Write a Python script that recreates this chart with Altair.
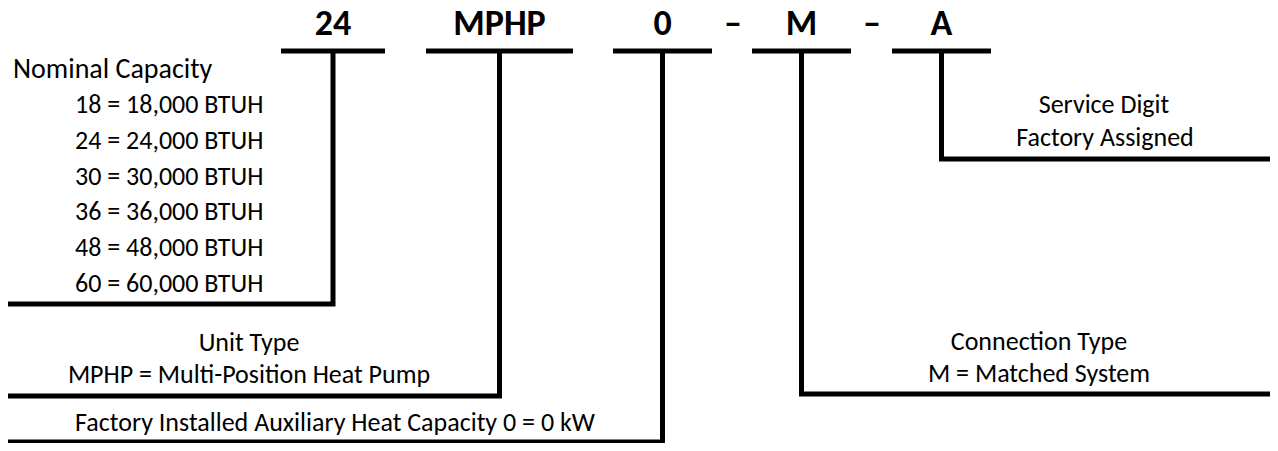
import altair as alt
import pandas as pd

# ---------------- content ----------------
codes = ["24", "MPHP", "0", "M", "A"]
separators = ["–", "–"]
cap_title = "Nominal Capacity"
cap_codes = ["18", "24", "30", "36", "48", "60"]
cap_btuh = ["18,000", "24,000", "30,000", "36,000", "48,000", "60,000"]
unit_lines = ["Unit Type", "MPHP = Multi-Position Heat Pump"]
aux_lines = ["Factory Installed Auxiliary Heat Capacity 0 = 0 kW"]
conn_lines = ["Connection Type", "M = Matched System"]
serv_lines = ["Service Digit", "Factory Assigned"]

# ---------------- layout (pixels of the 1278x451 frame) ----------------
slot_x = [333, 499.5, 662.5, 801.5, 941.5]
slot_half = [52, 73.5, 49.5, 49.5, 49.5]
sep_x = [733, 872]
code_base = 35
bar_y = 51
drop_y = [304, 396, 442, 394, 159]
drop_end = [4, 4, 4, 1276, 1276]

cap_x = 75
cap_title_pos = (13, 78)
cap_base = [113, 149, 185, 220, 256, 292]
unit_pos = [(249, 351), (249, 383)]
aux_pos = [(335, 431)]
conn_pos = [(1039, 350), (1039, 382)]
serv_pos = [(1104, 113), (1105, 146)]

FONT = "Carlito, Lato, sans-serif"
BODY = 26
TITLE = 28
BIG = 36

X0, X1 = 8, 1270
Y0, Y1 = 8, 443
xs = alt.Scale(domain=[X0, X1], range=[0, X1 - X0], nice=False, zero=False)
ys = alt.Scale(domain=[Y0, Y1], range=[0, Y1 - Y0], nice=False, zero=False)

# top bars
bars = pd.DataFrame({
    "x": [c - h for c, h in zip(slot_x, slot_half)],
    "x2": [c + h for c, h in zip(slot_x, slot_half)],
    "y": [bar_y] * len(codes),
})

# connector paths
rows = []
for i in range(len(codes)):
    rows.append({"path": i, "o": 0, "x": slot_x[i], "y": bar_y})
    rows.append({"path": i, "o": 1, "x": slot_x[i], "y": drop_y[i]})
    rows.append({"path": i, "o": 2, "x": drop_end[i], "y": drop_y[i]})
paths = pd.DataFrame(rows)

big = pd.DataFrame({
    "t": codes + separators,
    "x": slot_x + sep_x,
    "y": [code_base] * (len(codes) + len(separators)),
})

left = pd.DataFrame({
    "t": [cap_title] + [f"{c} = {b} BTUH" for c, b in zip(cap_codes, cap_btuh)],
    "x": [cap_title_pos[0]] + [cap_x] * len(cap_codes),
    "y": [cap_title_pos[1]] + cap_base,
    "s": [TITLE] + [BODY] * len(cap_codes),
})

c_lines = unit_lines + aux_lines + conn_lines + serv_lines
c_pos = unit_pos + aux_pos + conn_pos + serv_pos
center = pd.DataFrame({
    "t": c_lines,
    "x": [p[0] for p in c_pos],
    "y": [p[1] for p in c_pos],
})

rule_layer = alt.Chart(bars).mark_rule(color="black", strokeWidth=5, strokeCap="butt").encode(
    x=alt.X("x:Q", scale=xs, axis=None),
    x2="x2:Q",
    y=alt.Y("y:Q", scale=ys, axis=None),
)

path_layer = alt.Chart(paths).mark_line(
    color="black", strokeWidth=5, strokeCap="butt", strokeJoin="miter"
).encode(
    x=alt.X("x:Q", scale=xs, axis=None),
    y=alt.Y("y:Q", scale=ys, axis=None),
    detail="path:N",
    order="o:Q",
)

big_layer = alt.Chart(big).mark_text(
    font=FONT, fontSize=BIG, fontWeight="bold", align="center", baseline="alphabetic", color="black"
).encode(
    x=alt.X("x:Q", scale=xs, axis=None),
    y=alt.Y("y:Q", scale=ys, axis=None),
    text="t:N",
)

left_layer = alt.Chart(left).mark_text(
    font=FONT, align="left", baseline="alphabetic", color="black"
).encode(
    x=alt.X("x:Q", scale=xs, axis=None),
    y=alt.Y("y:Q", scale=ys, axis=None),
    text="t:N",
    size=alt.Size("s:Q", scale=None, legend=None),
)

center_layer = alt.Chart(center).mark_text(
    font=FONT, fontSize=BODY, align="center", baseline="alphabetic", color="black"
).encode(
    x=alt.X("x:Q", scale=xs, axis=None),
    y=alt.Y("y:Q", scale=ys, axis=None),
    text="t:N",
)

chart = alt.layer(rule_layer, path_layer, big_layer, left_layer, center_layer).properties(
    width=X1 - X0, height=Y1 - Y0, padding=0, background="white",
    autosize=alt.AutoSizeParams(type="none"),
).configure_view(stroke=None)

chart.save("out.html", embed_options={"renderer": "svg", "actions": False})
